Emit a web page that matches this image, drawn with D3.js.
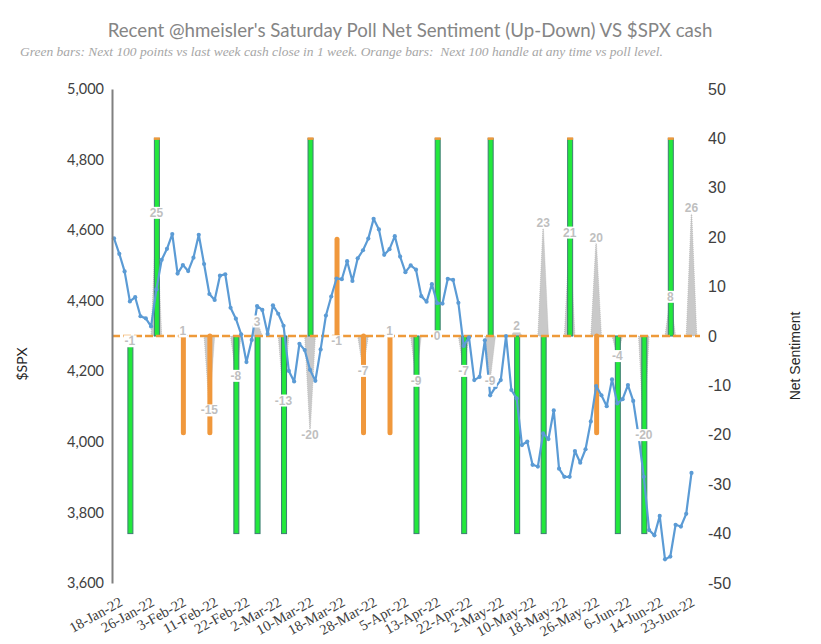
<!DOCTYPE html>
<html>
<head>
<meta charset="utf-8">
<script src="https://cdn.jsdelivr.net/npm/d3@7"></script>
<style>
  body { margin: 0; background: #fff; }
</style>
</head>
<body>
<div id="chart"></div>
<script>
// trading days on the category axis
const dates = [
  "18-Jan-22","19-Jan-22","20-Jan-22","21-Jan-22","24-Jan-22","25-Jan-22","26-Jan-22","27-Jan-22","28-Jan-22","31-Jan-22",
  "1-Feb-22","2-Feb-22","3-Feb-22","4-Feb-22","7-Feb-22","8-Feb-22","9-Feb-22","10-Feb-22","11-Feb-22","14-Feb-22",
  "15-Feb-22","16-Feb-22","17-Feb-22","18-Feb-22","22-Feb-22","23-Feb-22","24-Feb-22","25-Feb-22","28-Feb-22",
  "1-Mar-22","2-Mar-22","3-Mar-22","4-Mar-22","7-Mar-22","8-Mar-22","9-Mar-22","10-Mar-22","11-Mar-22","14-Mar-22",
  "15-Mar-22","16-Mar-22","17-Mar-22","18-Mar-22","21-Mar-22","22-Mar-22","23-Mar-22","24-Mar-22","25-Mar-22","28-Mar-22",
  "29-Mar-22","30-Mar-22","31-Mar-22",
  "1-Apr-22","4-Apr-22","5-Apr-22","6-Apr-22","7-Apr-22","8-Apr-22","11-Apr-22","12-Apr-22","13-Apr-22","14-Apr-22",
  "18-Apr-22","19-Apr-22","20-Apr-22","21-Apr-22","22-Apr-22","25-Apr-22","26-Apr-22","27-Apr-22","28-Apr-22","29-Apr-22",
  "2-May-22","3-May-22","4-May-22","5-May-22","6-May-22","9-May-22","10-May-22","11-May-22","12-May-22","13-May-22",
  "16-May-22","17-May-22","18-May-22","19-May-22","20-May-22","23-May-22","24-May-22","25-May-22","26-May-22","27-May-22",
  "31-May-22",
  "1-Jun-22","2-Jun-22","3-Jun-22","6-Jun-22","7-Jun-22","8-Jun-22","9-Jun-22","10-Jun-22","13-Jun-22","14-Jun-22",
  "15-Jun-22","16-Jun-22","17-Jun-22","21-Jun-22","22-Jun-22","23-Jun-22","24-Jun-22"
];

// $SPX cash close
const spx = [
  4577, 4533, 4483, 4398, 4410, 4356, 4350, 4327, 4432, 4516,
  4547, 4589, 4477, 4501, 4484, 4522, 4587, 4504, 4419, 4402,
  4471, 4475, 4380, 4349, 4305, 4226, 4289, 4385, 4374,
  4306, 4387, 4363, 4329, 4201, 4171, 4278, 4260, 4204, 4173,
  4262, 4358, 4412, 4463, 4461, 4512, 4456, 4520, 4543, 4576,
  4632, 4602, 4530,
  4546, 4583, 4525, 4481, 4500, 4488, 4413, 4397, 4447, 4393,
  4392, 4462, 4459, 4394, 4272, 4296, 4175, 4184, 4288, 4132,
  4155, 4175, 4300, 4147, 4123, 3991, 4001, 3935, 3930, 4024,
  4008, 4089, 3924, 3901, 3901, 3974, 3941, 3979, 4058, 4158,
  4132,
  4101, 4177, 4109, 4121, 4161, 4116, 4018, 3901, 3750, 3735,
  3790, 3667, 3675, 3765, 3760, 3796, 3912
];

// weekly poll (plotted on the Friday before the Saturday poll)
const pollDates = [
  "21-Jan-22","28-Jan-22","4-Feb-22","11-Feb-22","18-Feb-22","25-Feb-22","4-Mar-22","11-Mar-22",
  "18-Mar-22","25-Mar-22","1-Apr-22","8-Apr-22","14-Apr-22","22-Apr-22","29-Apr-22","6-May-22",
  "13-May-22","20-May-22","27-May-22","3-Jun-22","10-Jun-22","17-Jun-22","24-Jun-22"
];
const pollNet = [-1, 25, 1, -15, -8, 3, -13, -20, -1, -7, 1, -9, 0, -7, -9, 2, 23, 21, 20, -4, -20, 8, 26];
const greenBars = [-40, 40, null, null, -40, -40, -40, 40, null, null, null, -40, 40, -40, 40, -40, -40, 40, null, -40, -40, 40, null];
const orangeBars = [null, null, -20, -20, null, null, null, null, 20, -20, -20, null, null, null, null, null, null, null, -20, null, null, null, null];

const leftTicks = [3600, 3800, 4000, 4200, 4400, 4600, 4800, 5000];
const rightTicks = [-50, -40, -30, -20, -10, 0, 10, 20, 30, 40, 50];

const titleText = "Recent @hmeisler's Saturday Poll Net Sentiment (Up-Down) VS $SPX cash";
const subtitleText = "Green bars: Next 100 points vs last week cash close in 1 week. Orange bars:  Next 100 handle at any time vs poll level.";

const width = 821, height = 644;

const svg = d3.select("#chart")
    .append("svg")
    .attr("width", width)
    .attr("height", height);

const x = d3.scalePoint().domain(dates).range([114, 691.5]);
const yL = d3.scaleLinear().domain([3600, 5000]).range([583, 89]);
const yR = d3.scaleLinear().domain([-50, 50]).range([583, 89]);
const step = x.step();

// fit a text element to a measured width by changing only its font size
function fitText(sel, w) {
  const len = sel.node().getComputedTextLength();
  const fs = parseFloat(sel.attr("font-size"));
  sel.attr("font-size", fs * w / len);
}

// titles
const title = svg.append("text")
    .attr("x", 410).attr("y", 37)
    .attr("text-anchor", "middle")
    .attr("font-family", "Lato, 'Open Sans', sans-serif")
    .attr("font-size", 19)
    .attr("fill", "#858585")
    .text(titleText);
fitText(title, 605);

const subtitle = svg.append("text")
    .attr("x", 20).attr("y", 56)
    .attr("font-family", "'Liberation Serif', serif")
    .attr("font-style", "italic")
    .attr("font-size", 13)
    .attr("fill", "#a6a6a6")
    .style("white-space", "pre")
    .text(subtitleText);
fitText(subtitle, 643);

// gray spikes for the poll net sentiment
const pollRows = pollDates.map((d, i) => ({ date: d, net: pollNet[i], green: greenBars[i], orange: orangeBars[i] }));

const spike = d3.area()
    .x(p => p[0])
    .y0(yR(0))
    .y1(p => p[1]);

svg.append("g")
  .selectAll("path")
  .data(pollRows)
  .join("path")
    .attr("d", d => spike([[x(d.date) - step, yR(0)], [x(d.date), yR(d.net)], [x(d.date) + step, yR(0)]]))
    .attr("fill", "#c9c9c9")
    .attr("stroke", "#b5b5b5")
    .attr("stroke-width", 0.7)
    .attr("stroke-dasharray", "1,1");

// green bars
const greens = pollRows.filter(d => d.green !== null);
svg.append("g")
  .selectAll("rect")
  .data(greens)
  .join("rect")
    .attr("x", d => x(d.date) - 2)
    .attr("width", 5)
    .attr("y", d => Math.min(yR(0), yR(d.green)))
    .attr("height", d => Math.abs(yR(d.green) - yR(0)))
    .attr("fill", "#22e83c")
    .attr("stroke", "#3d7d72")
    .attr("stroke-width", 1);

// orange tips on the up green bars
svg.append("g")
  .selectAll("rect")
  .data(greens.filter(d => d.green > 0))
  .join("rect")
    .attr("x", d => x(d.date) - 2.5)
    .attr("width", 6)
    .attr("y", d => yR(d.green) - 1)
    .attr("height", 2.5)
    .attr("fill", "#f0983c");

// orange bars
svg.append("g")
  .selectAll("line")
  .data(pollRows.filter(d => d.orange !== null))
  .join("line")
    .attr("x1", d => x(d.date) + 0.5)
    .attr("x2", d => x(d.date) + 0.5)
    .attr("y1", yR(0))
    .attr("y2", d => yR(d.orange) + Math.sign(d.orange) * 2)
    .attr("stroke", "#f0983c")
    .attr("stroke-width", 5)
    .attr("stroke-linecap", "round");

// dashed zero line
svg.append("line")
    .attr("x1", 112).attr("x2", 700)
    .attr("y1", yR(0)).attr("y2", yR(0))
    .attr("stroke", "#ee9a3a")
    .attr("stroke-width", 2.5)
    .attr("stroke-dasharray", "8,3");

// $SPX line
const spxLine = d3.line()
    .x((v, i) => x(dates[i]))
    .y(v => yL(v));

svg.append("path")
    .datum(spx)
    .attr("d", spxLine)
    .attr("fill", "none")
    .attr("stroke", "#5b9bd5")
    .attr("stroke-width", 2.2)
    .attr("stroke-linejoin", "round");

svg.append("g")
  .selectAll("circle")
  .data(spx)
  .join("circle")
    .attr("cx", (v, i) => x(dates[i]))
    .attr("cy", v => yL(v))
    .attr("r", 2.1)
    .attr("fill", "#5b9bd5");

// poll labels with white background
const labels = svg.append("g")
  .selectAll("g")
  .data(pollRows)
  .join("g")
    .attr("transform", d => `translate(${x(d.date)},${yR(d.net)})`);

labels.append("rect");
labels.append("text")
    .attr("text-anchor", "middle")
    .attr("dy", "0.36em")
    .attr("font-family", "'Liberation Sans', Arial, sans-serif")
    .attr("font-weight", "bold")
    .attr("font-size", 12)
    .attr("fill", "#bfbfbf")
    .text(d => d.net);

labels.each(function() {
  const g = d3.select(this);
  const b = g.select("text").node().getBBox();
  g.select("rect")
      .attr("x", b.x - 1).attr("y", b.y + 1)
      .attr("width", b.width + 2).attr("height", b.height - 2)
      .attr("fill", "#fff");
});

// left axis
const leftAxis = svg.append("g")
    .attr("transform", "translate(112,0)")
    .call(d3.axisLeft(yL).tickValues(leftTicks).tickFormat(d3.format(",")).tickSize(0).tickSizeOuter(0).tickPadding(8));
leftAxis.select(".domain").attr("stroke", "#808080").attr("stroke-width", 2);
leftAxis.selectAll("text")
    .attr("font-family", "Lato, 'Open Sans', sans-serif")
    .attr("font-size", 14.5)
    .attr("fill", "#404040");

// right axis
const rightAxis = svg.append("g")
    .attr("transform", "translate(708,0)")
    .call(d3.axisRight(yR).tickValues(rightTicks).tickFormat(d => String(d)).tickSize(0).tickPadding(0));
rightAxis.select(".domain").remove();
rightAxis.selectAll("text")
    .attr("font-family", "'Liberation Sans', Arial, sans-serif")
    .attr("font-size", 16)
    .attr("fill", "#404040");

// category axis, a label every 6 trading days
const bottomAxis = svg.append("g")
    .attr("transform", "translate(0,583)")
    .call(d3.axisBottom(x).tickValues(dates.filter((d, i) => i % 6 === 0)).tickSize(0));
bottomAxis.select(".domain").remove();
bottomAxis.selectAll("text")
    .attr("y", 0)
    .attr("dy", 0)
    .attr("text-anchor", "end")
    .attr("transform", "translate(9,22) rotate(-29)")
    .attr("font-family", "'Liberation Serif', serif")
    .attr("font-size", 14.5)
    .attr("fill", "#404040");

// axis titles
svg.append("text")
    .attr("transform", "translate(27,364) rotate(-90)")
    .attr("text-anchor", "middle")
    .attr("font-family", "Lato, 'Open Sans', sans-serif")
    .attr("font-size", 14)
    .attr("fill", "#262626")
    .text("$SPX");

svg.append("text")
    .attr("transform", "translate(800,356) rotate(-90)")
    .attr("text-anchor", "middle")
    .attr("font-family", "'Liberation Sans', Arial, sans-serif")
    .attr("font-size", 14)
    .attr("fill", "#262626")
    .text("Net Sentiment");
</script>
</body>
</html>
